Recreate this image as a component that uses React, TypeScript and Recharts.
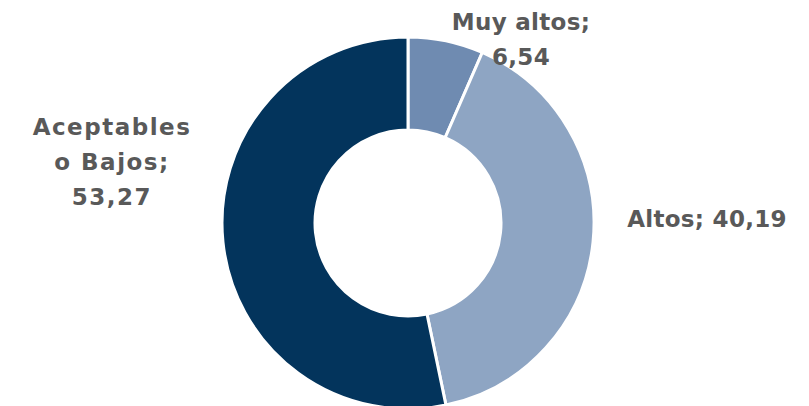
import React from "react";
import { PieChart, Pie, Cell } from "recharts";

const categories = ["Muy altos", "Altos", "Aceptables o Bajos"];
const values = [6.54, 40.19, 53.27];
const labelLines = [["Muy altos;", "6,54"], ["Altos; 40,19"], ["Aceptables", "o Bajos;", "53,27"]];
const colors = ["#6f8bb1", "#8ea5c3", "#03345c"];

// label layout offsets relative to the pie centre (layout only)
const labelOffsets = [
  { dx: 113, dy: -193 },
  { dx: 299, dy: 4 },
  { dx: -296, dy: -88 },
];
const LINE_H = 35;

const data = categories.map((name, i) => ({ name, value: values[i] }));

const renderLabel = (props: any) => {
  const { cx, cy, index } = props;
  const off = labelOffsets[index];
  const lines = labelLines[index];
  return (
    <text
      key={`lbl-${index}`}
      x={cx + off.dx}
      y={cy + off.dy}
      textAnchor="middle"
      fill="#595959"
      fontFamily="'DejaVu Sans', sans-serif"
      fontWeight={700}
      fontSize={23}
      letterSpacing={index === 2 ? 1.5 : 0.3}
    >
      {lines.map((l, j) => (
        <tspan key={j} x={cx + off.dx} y={cy + off.dy + j * LINE_H}>
          {l}
        </tspan>
      ))}
    </text>
  );
};

export default function App() {
  return (
    <div style={{ position: "fixed", left: 0, top: 0, width: 809, height: 406, background: "#fff" }}>
      <PieChart width={809} height={406} margin={{ top: 0, right: 0, bottom: 0, left: 0 }}>
        <Pie
          data={data}
          dataKey="value"
          nameKey="name"
          cx={408}
          cy={223}
          innerRadius={93}
          outerRadius={186}
          startAngle={90}
          endAngle={-270}
          stroke="#ffffff"
          strokeWidth={3}
          label={renderLabel}
          labelLine={false}
          isAnimationActive={false}
        >
          {data.map((d, i) => (
            <Cell key={d.name} fill={colors[i]} />
          ))}
        </Pie>
      </PieChart>
    </div>
  );
}
